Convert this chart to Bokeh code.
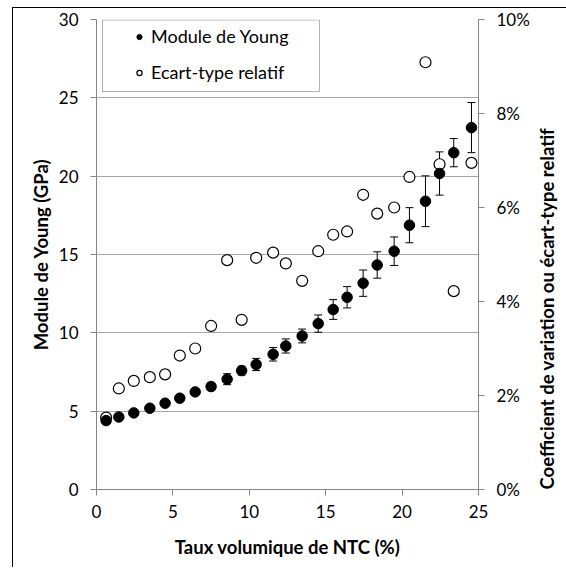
import math
from bokeh.plotting import figure
from bokeh.models import (LinearAxis, Range1d, Whisker, TeeHead, ColumnDataSource,
                          Legend, LegendItem, FixedTicker, PrintfTickFormatter, BoxAnnotation)
from bokeh.embed import file_html
from bokeh.resources import INLINE

# Data
taux = [0.63, 1.46, 2.44, 3.49, 4.49, 5.45, 6.46, 7.50, 8.55, 9.50, 10.45, 11.56, 12.39,
        13.46, 14.51, 15.49, 16.40, 17.45, 18.37, 19.48, 20.48, 21.53, 22.45, 23.38, 24.54]
module_young = [4.40, 4.63, 4.89, 5.19, 5.51, 5.83, 6.23, 6.57, 7.04, 7.59, 7.98, 8.63, 9.16,
                9.80, 10.59, 11.49, 12.27, 13.17, 14.33, 15.21, 16.87, 18.40, 20.17, 21.50, 23.10]
ecart_gpa = [0.07, 0.10, 0.11, 0.12, 0.13, 0.17, 0.19, 0.23, 0.35, 0.28, 0.39, 0.43, 0.45,
             0.44, 0.55, 0.63, 0.68, 0.84, 0.84, 0.91, 1.12, 1.62, 1.38, 0.90, 1.60]
ecart_relatif = [1.53, 2.15, 2.31, 2.39, 2.45, 2.85, 3.00, 3.48, 4.88, 3.61, 4.93, 5.04, 4.81,
                 4.44, 5.07, 5.42, 5.49, 6.27, 5.87, 6.00, 6.65, 9.09, 6.92, 4.22, 6.95]
x_ticks = [0, 5, 10, 15, 20, 25]
y_ticks = [0, 5, 10, 15, 20, 25, 30]
pct_ticks = [0, 2, 4, 6, 8, 10]

src = ColumnDataSource(dict(
    x=taux, y=module_young, cv=ecart_relatif,
    upper=[m + e for m, e in zip(module_young, ecart_gpa)],
    lower=[m - e for m, e in zip(module_young, ecart_gpa)],
))

FONT = "Lato"
GRID = "#A6A6A6"
AXIS = "#868686"

FW, FH = 382, 470
CW, CH = 552, 560
BL, BT = 83, 11

p = figure(frame_width=FW, frame_height=FH,
           min_border_left=BL, min_border_right=CW - BL - FW,
           min_border_top=BT, min_border_bottom=CH - BT - FH,
           x_range=Range1d(0, 25), y_range=Range1d(0, 30),
           output_backend="svg", toolbar_location=None)
p.margin = (8, 0, 0, 13)
p.styles = {"box-shadow": "-1px -1px 0 0 black"}
p.extra_y_ranges = {"pct": Range1d(0, 10)}
p.outline_line_color = None
p.background_fill_color = "white"
p.border_fill_color = "white"

p.xgrid.visible = False
p.ygrid.ticker = FixedTicker(ticks=y_ticks)
p.ygrid.grid_line_color = GRID
p.ygrid.grid_line_width = 1

p.xaxis.ticker = FixedTicker(ticks=x_ticks)
p.yaxis.ticker = FixedTicker(ticks=y_ticks)
p.xaxis.axis_label = "Taux volumique de NTC (%)"
p.yaxis.axis_label = "Module de Young (GPa)"

right = LinearAxis(y_range_name="pct", ticker=FixedTicker(ticks=pct_ticks),
                   formatter=PrintfTickFormatter(format="%d%%"),
                   axis_label="Coefficient de variation ou écart-type relatif")
p.add_layout(right, "right")
right.axis_label_orientation = math.pi / 2
right.axis_label_align = "start"

for ax in [p.xaxis[0], p.yaxis[0], right]:
    ax.axis_line_color = AXIS
    ax.major_tick_line_color = AXIS
    ax.minor_tick_line_color = None
    ax.major_tick_in = 0
    ax.major_tick_out = 6
    ax.major_label_text_font = FONT
    ax.major_label_text_font_size = "17px"
    ax.major_label_text_color = "black"
    ax.major_label_standoff = 12
    ax.axis_label_text_font = FONT
    ax.axis_label_text_font_size = "18.5px"
    ax.axis_label_text_font_style = "bold"
    ax.axis_label_text_color = "black"
p.xaxis.major_label_standoff = 9
p.xaxis.axis_label_standoff = 15
p.yaxis.axis_label_standoff = 4
right.axis_label_standoff = 14

whisk = Whisker(source=src, base="x", upper="upper", lower="lower",
                line_color="black", line_width=1,
                upper_head=TeeHead(size=8, line_color="black", line_width=1),
                lower_head=TeeHead(size=8, line_color="black", line_width=1))
p.add_layout(whisk)

r_cv = p.scatter("x", "cv", source=src, y_range_name="pct", size=11,
                 fill_color="white", line_color="black", line_width=1.2)
r_e = p.scatter("x", "y", source=src, size=10.5, fill_color="black", line_color="black")

# legend frame (inside the plot frame, screen units from the frame's bottom-left)
legend_box = BoxAnnotation(left=6, right=223, top=FH - 0.5, bottom=FH - 72,
                           left_units="screen", right_units="screen",
                           top_units="screen", bottom_units="screen",
                           fill_color="white", fill_alpha=1.0,
                           line_color="black", line_width=1)
p.add_layout(legend_box)

legend = Legend(items=[LegendItem(label="Module de Young", renderers=[r_e]),
                       LegendItem(label="Ecart-type relatif", renderers=[r_cv])],
                location=(6, 380), orientation="vertical",
                padding=25, glyph_width=24, glyph_height=13, label_height=24,
                label_standoff=0, spacing=12,
                label_text_font=FONT, label_text_font_size="18px", label_text_color="black",
                border_line_alpha=0, background_fill_alpha=0)
p.add_layout(legend)

open("out.html", "w").write(file_html(p, INLINE))
